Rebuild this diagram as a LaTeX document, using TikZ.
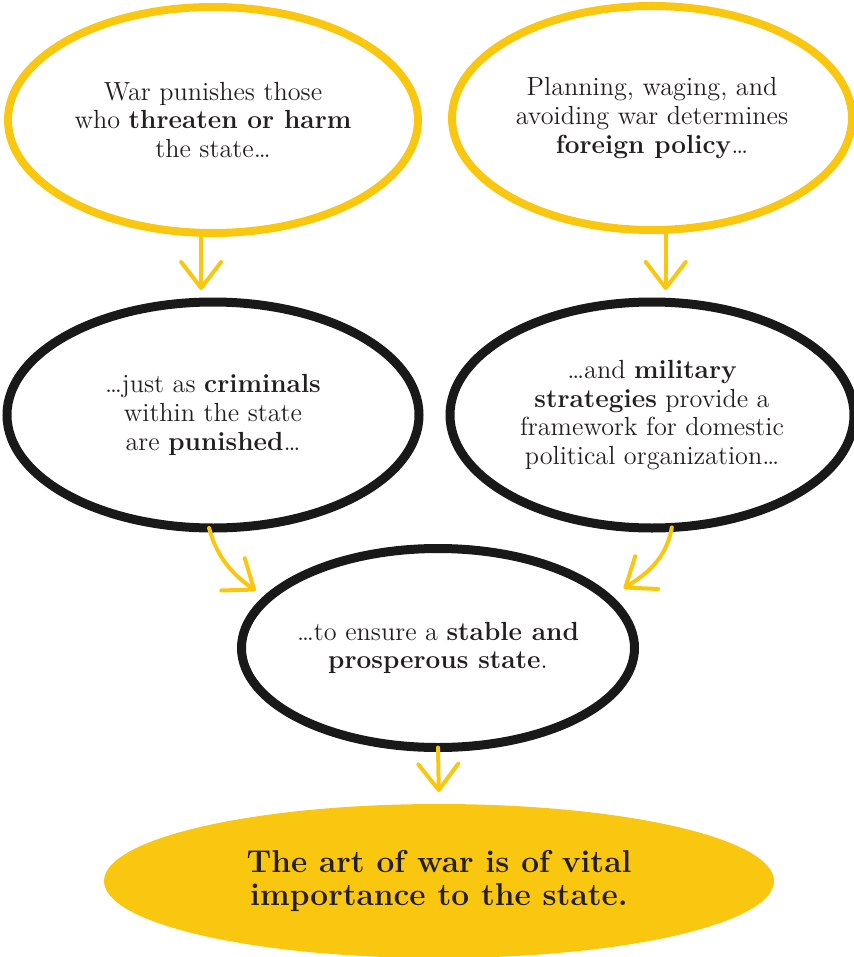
\documentclass[tikz,border=0pt]{standalone}
\usepackage{tikz}
\usetikzlibrary{shapes.geometric, arrows.meta, positioning}
\definecolor{warYellow}{RGB}{250,199,16}
\definecolor{inkGray}{RGB}{35,31,32}

\begin{document}
\begin{tikzpicture}[x=0.5pt, y=-0.5pt,
    ring/.style={ellipse, outer sep=0pt, inner sep=-8pt, align=center, text=inkGray,
                 font=\fontsize{13.1}{14.3}\selectfont},
    yring/.style={ring, draw=warYellow, line width=4pt},
    kring/.style={ring, draw=black!90, line width=4.5pt},
    goal/.style={ellipse, fill=warYellow, outer sep=0pt, inner sep=-5pt, align=center, text=inkGray,
                 font=\fontsize{15.8}{16.2}\selectfont\bfseries},
    arr/.style={draw=warYellow, line width=2pt, line cap=round,
                -{Straight Barb[length=13pt, width=20pt, round]}}]

                \useasboundingbox (0,0) rectangle (853,957);

                \node[yring, minimum width=205pt, minimum height=113pt] (s1) at (213, 120) {War punishes those\\who \textbf{threaten or harm}\\the state\ldots};
                \node[yring, minimum width=200pt, minimum height=112pt] (s2) at (652, 118) {Planning, waging, and\\avoiding war determines\\\textbf{foreign policy}\ldots};
                \node[kring, minimum width=206pt, minimum height=113pt] (s3) at (213, 415) {\ldots{}just as \textbf{criminals}\\within the state\\are \textbf{punished}\ldots};
                \node[kring, minimum width=202pt, minimum height=113pt] (s4) at (652, 415) {\ldots{}and \textbf{military}\\\textbf{strategies} provide a\\framework for domestic\\political organization\ldots};
                \node[kring, minimum width=196.5pt, minimum height=99.5pt] (s5) at (438, 648) {\ldots{}to ensure a \textbf{stable and}\\\textbf{prosperous state}.};
                \node[goal, minimum width=335pt, minimum height=77pt] (goal) at (439, 881) {The art of war is of vital\\importance to the state.};

                \draw[arr, shorten >=6pt] (s1.264) -- (s1.264 |- s3.north);
                \draw[arr, shorten >=6pt] (s2.277) -- (s2.277 |- s4.north);
                \draw[arr, shorten >=7pt] (s3.268) to[out=-75, in=144] (s5.164);
                \draw[arr, shorten >=9pt] (s4.280) to[out=-100, in=35] (s5.16);
                \draw[arr, shorten >=6pt] (s5.south) -- (goal.north);
            \end{tikzpicture}
\end{document}
